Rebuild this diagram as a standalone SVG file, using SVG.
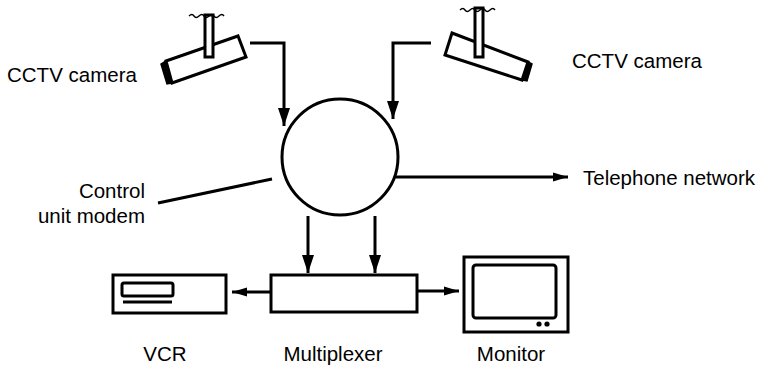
<svg xmlns="http://www.w3.org/2000/svg" width="764" height="371" viewBox="0 0 764 371">
  <style>
    .ln { fill: none; stroke: #000; stroke-width: 3; stroke-linecap: butt; stroke-linejoin: miter; }
    .box { fill: #fff; stroke: #000; stroke-width: 3; }
    .thin { fill: none; stroke: #000; stroke-width: 1.4; }
    .lbl { font-family: "Liberation Sans", Arial, sans-serif; font-size: 20.5px; fill: #000; }
  </style>
  <defs>
    <marker id="headBig" markerUnits="userSpaceOnUse" markerWidth="20" markerHeight="14" refX="18" refY="7" orient="auto">
      <path d="M0,1 L18,7 L0,13 Z" fill="#000"/>
    </marker>
    <marker id="headSmall" markerUnits="userSpaceOnUse" markerWidth="16" markerHeight="10" refX="15" refY="5" orient="auto">
      <path d="M0,0.5 L15,5 L0,9.5 Z" fill="#000"/>
    </marker>
  </defs>

  <rect width="764" height="371" fill="#fff"/>

  <!-- connectors -->
  <g id="connectors">
    <path class="ln" d="M250,43 H284 V126" marker-end="url(#headBig)"/>
    <path class="ln" d="M431,43 H393 V119" marker-end="url(#headBig)"/>
    <path class="ln" d="M367,177 H568" marker-end="url(#headSmall)"/>
    <path class="ln" d="M158,203 L272,179"/>
    <path class="ln" d="M308,216 V273" marker-end="url(#headBig)"/>
    <path class="ln" d="M375,216 V273" marker-end="url(#headBig)"/>
    <path class="ln" d="M271,292 H232" marker-end="url(#headSmall)"/>
    <path class="ln" d="M417,291 H459" marker-end="url(#headSmall)"/>
  </g>

  <!-- left camera -->
  <g id="camera-left">
    <polygon class="box" points="166,61 238,36 246,57 172,83"/>
    <path d="M166,61 L161,64 L167,84 L172,83 Z" fill="#000" stroke="#000" stroke-width="1.5"/>
    <rect class="box" x="205" y="15" width="8" height="42" stroke-width="2"/>
    <path class="thin" d="M189,16 q3,-3 5,0 t5,0 t5,0 t5,0 t5,0 t5,0 t5,0"/>
    <text class="lbl" x="7" y="82">CCTV camera</text>
  </g>

  <!-- right camera -->
  <g id="camera-right">
    <polygon class="box" points="452,33 528,62 522,80 445,55"/>
    <path d="M528,62 L532,64 L527,81 L522,80 Z" fill="#000" stroke="#000" stroke-width="1.5"/>
    <rect class="box" x="475" y="8" width="8" height="49" stroke-width="2"/>
    <path class="thin" d="M460,10 q3,-3 5,0 t5,0 t5,0 t5,0 t5,0 t5,0 t5,0"/>
    <text class="lbl" x="572" y="68">CCTV camera</text>
  </g>

  <!-- control unit / modem -->
  <g id="control-unit">
    <circle class="box" cx="340" cy="157" r="58" fill="none"/>
    <text class="lbl" x="145" y="198" text-anchor="end">Control</text>
    <text class="lbl" x="145" y="223" text-anchor="end">unit modem</text>
  </g>

  <!-- telephone network -->
  <g id="telephone">
    <text class="lbl" x="583" y="185">Telephone network</text>
  </g>

  <!-- multiplexer -->
  <g id="multiplexer">
    <rect class="box" x="271" y="275" width="146" height="37"/>
    <text class="lbl" x="333" y="361" text-anchor="middle">Multiplexer</text>
  </g>

  <!-- VCR -->
  <g id="vcr">
    <rect class="box" x="113" y="275" width="113" height="38"/>
    <rect class="box" x="122" y="283" width="51" height="13" rx="2"/>
    <path d="M123,302 H172" stroke="#000" stroke-width="3"/>
    <text class="lbl" x="165" y="361" text-anchor="middle">VCR</text>
  </g>

  <!-- monitor -->
  <g id="monitor">
    <rect class="box" x="464" y="257" width="104" height="75"/>
    <rect class="box" x="473" y="265" width="83" height="53" rx="3" stroke-width="2"/>
    <circle cx="539" cy="324" r="2.6" fill="#000"/>
    <circle cx="547" cy="324" r="2.6" fill="#000"/>
    <text class="lbl" x="511" y="361" text-anchor="middle">Monitor</text>
  </g>
</svg>
